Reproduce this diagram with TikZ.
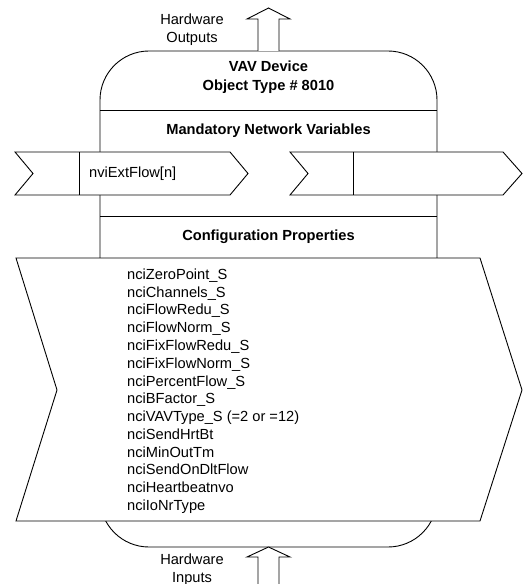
\documentclass[tikz,border=0pt]{standalone}
\usepackage{fontspec}
\setmainfont{Liberation Sans}
\usetikzlibrary{positioning}
\tikzset{outline/.style={
            draw,
            fill=white,
            line width=0.9bp,
            line join=miter
        },
        heading/.style={
            align=center,
            inner sep=0pt,
            font=\bfseries\fontsize{14.7}{19}\selectfont
        },
        plaintext/.style={
            inner sep=0pt,
            font=\fontsize{14.7}{17.85}\selectfont
        }
    }

\begin{document}
\begin{tikzpicture}
        [x=1bp,y=-1bp,hwtext/.style={plaintext,align=center}]

        \useasboundingbox (0,0) rectangle (525,584);

        % device body
        \draw[outline,rounded corners=49bp] (100,51) rectangle (437,547);
        \draw[line width=0.9bp] (100,110) -- (437,110);
        \draw[line width=0.9bp] (100,216) -- (437,216);

        % hardware arrows
        \draw[outline] (258,51) -- (258,19) -- (247,19) -- (268.5,8) -- (290,19) -- (279,19) -- (279,51);
        \draw[outline] (258,585) -- (258,557) -- (247,557) -- (268.5,547) -- (290,557) -- (279,557) -- (279,585);

        % network variables
        \draw[outline] (15,152) -- (230,152) -- (248,173.5) -- (230,195) -- (15,195) -- (33,173.5) -- cycle;
        \draw[line width=0.9bp] (79,152) -- (79,195);
        \draw[outline] (290,152) -- (503,152) -- (522,173.5) -- (503,195) -- (290,195) -- (308,173.5) -- cycle;
        \draw[line width=0.9bp] (353,152) -- (353,195);

        % configuration properties
        \draw[outline] (16,258) -- (480,258) -- (522,390) -- (480,521) -- (16,521) -- (57,390) -- cycle;

        \node[hwtext] (hwout) at (192,30) {Hardware\\Outputs};
        \node[hwtext] (hwin) at (192,569.5) {Hardware\\Inputs};
        \node[heading] (title) at (268.5,77.5) {VAV Device\\Object Type \# 8010};
        \node[heading] (mandatory) at (268.5,131) {Mandatory Network Variables};
        \node[heading] (config) at (268.5,237) {Configuration Properties};
        \node[plaintext,anchor=west] (extflow) at (89,173.5) {nviExtFlow[n]};
        \node[plaintext,align=left,anchor=north west] (cfglist) at (127,268.5) {nciZeroPoint\_S\\
            nciChannels\_S\\
            nciFlowRedu\_S\\
            nciFlowNorm\_S\\
            nciFixFlowRedu\_S\\
            nciFixFlowNorm\_S\\
            nciPercentFlow\_S\\
            nciBFactor\_S\\
            nciVAVType\_S (=2 or =12)\\
            nciSendHrtBt\\
            nciMinOutTm\\
            nciSendOnDltFlow\\
            nciHeartbeatnvo\\
            nciIoNrType};

    \end{tikzpicture}
\end{document}
